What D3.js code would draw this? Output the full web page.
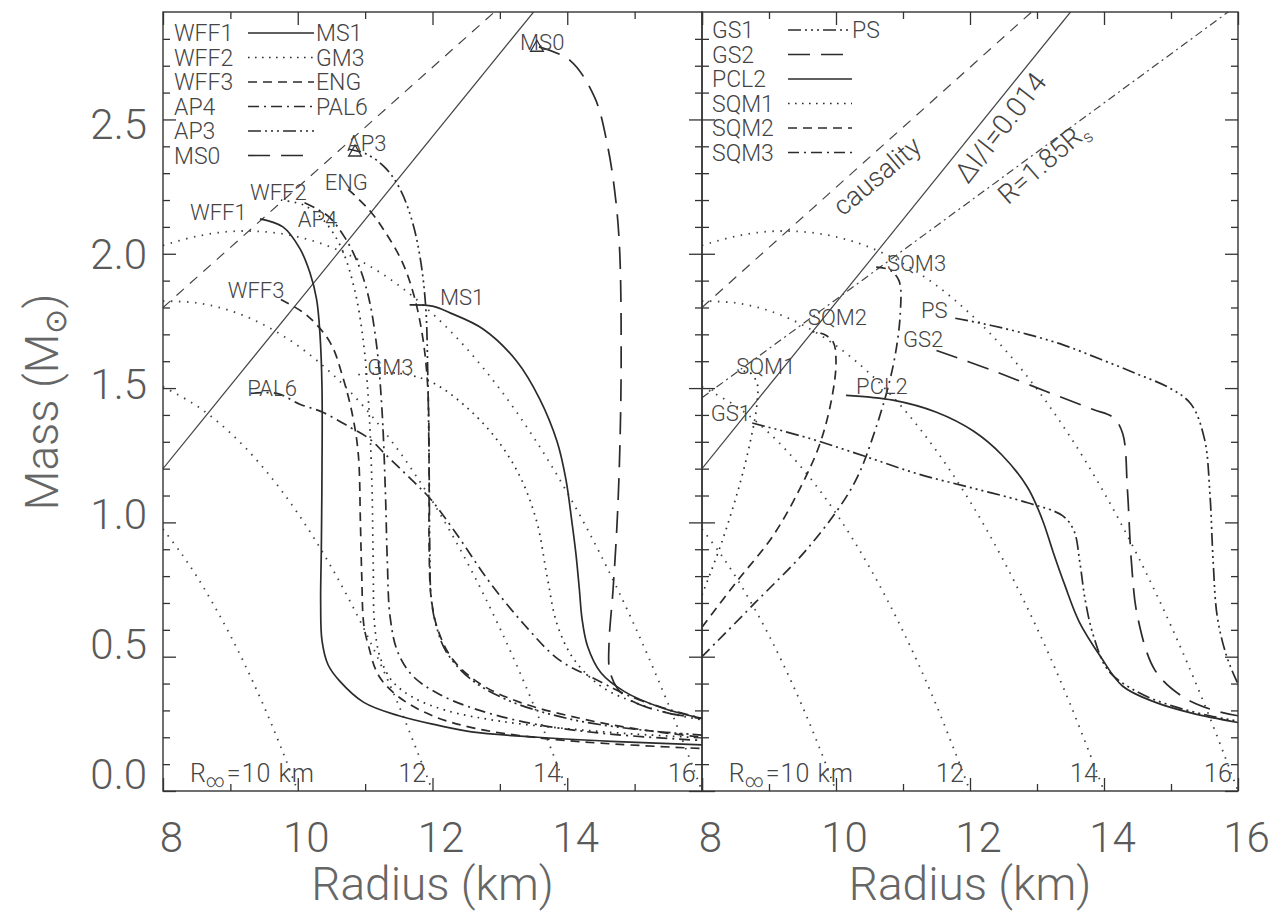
<!DOCTYPE html>
<html><head><meta charset="utf-8">
<script src="https://cdn.jsdelivr.net/npm/d3@7"></script>
<style>body{margin:0;background:#fff}</style>
</head><body>
<svg id="c" width="1277" height="919"></svg>
<script>
// ---------- tick values ----------
const xMajor = [8, 10, 12, 14, 16];
const xMinor = [9, 11, 13, 15];
const yMajor = [0, 0.5, 1, 1.5, 2, 2.5];
const yMinor = [0.1,0.2,0.3,0.4,0.6,0.7,0.8,0.9,1.1,1.2,1.3,1.4,1.6,1.7,1.8,1.9,2.1,2.2,2.3,2.4,2.6,2.7,2.8];

// ---------- left panel series (Radius km, Mass Msun) ----------
const WFF1 = [[9.44,2.13],[9.78,2.10],[10.03,2.02],[10.18,1.93],[10.28,1.83],[10.33,1.70],[10.36,1.50],[10.36,1.20],[10.35,0.90],[10.34,0.70],[10.36,0.56],[10.45,0.47],[10.62,0.41],[10.98,0.33],[11.5,0.28],[12.07,0.245],[12.58,0.22],[13.56,0.20],[14.65,0.185],[16,0.172]];
const WFF2 = [[9.75,2.20],[10.1,2.18],[10.4,2.12],[10.65,2.02],[10.85,1.86],[10.98,1.66],[11.05,1.45],[11.1,1.15],[11.12,0.85],[11.14,0.62],[11.22,0.50],[11.4,0.41],[11.7,0.35],[12.2,0.30],[13.0,0.26],[14.0,0.232],[15.0,0.212],[16,0.198]];
const WFF3 = [[9.75,1.83],[10.14,1.77],[10.48,1.67],[10.67,1.54],[10.82,1.39],[10.9,1.25],[10.93,1.00],[10.95,0.80],[10.98,0.62],[11.05,0.54],[11.2,0.43],[11.5,0.35],[12.0,0.28],[12.6,0.235],[13.5,0.20],[14.5,0.178],[16,0.158]];
const AP4  = [[10.1,2.19],[10.45,2.14],[10.7,2.06],[10.9,1.96],[11.05,1.84],[11.17,1.66],[11.25,1.42],[11.3,1.12],[11.33,0.85],[11.37,0.65],[11.48,0.52],[11.7,0.43],[12.1,0.36],[12.7,0.30],[13.5,0.25],[14.5,0.215],[16,0.188]];
const ENG  = [[10.75,2.24],[11.07,2.16],[11.3,2.08],[11.55,1.97],[11.73,1.84],[11.86,1.68],[11.93,1.50],[11.95,1.20],[11.95,0.90],[11.98,0.72],[12.08,0.60],[12.3,0.49],[12.7,0.40],[13.3,0.33],[14.2,0.27],[15,0.232],[16,0.2]];
const AP3  = [[10.75,2.39],[11.03,2.37],[11.3,2.32],[11.52,2.24],[11.7,2.12],[11.82,1.98],[11.9,1.80],[11.93,1.55],[11.95,1.20],[11.96,0.90],[11.98,0.72],[12.05,0.62],[12.2,0.52],[12.55,0.42],[13.1,0.34],[14.0,0.27],[15,0.23],[16,0.208]];
const MS1  = [[11.66,1.81],[12.0,1.805],[12.26,1.78],[12.75,1.72],[13.25,1.60],[13.59,1.46],[13.85,1.30],[13.98,1.16],[14.07,1.00],[14.13,0.88],[14.18,0.75],[14.22,0.64],[14.3,0.54],[14.5,0.44],[14.85,0.37],[15.4,0.31],[16,0.27]];
const GM3  = [[10.9,1.55],[11.5,1.555],[12.0,1.52],[12.5,1.43],[12.95,1.31],[13.3,1.17],[13.55,1.00],[13.7,0.80],[13.85,0.62],[14.1,0.49],[14.5,0.39],[15.0,0.33],[15.5,0.29],[16,0.265]];
const PAL6 = [[9.3,1.48],[9.69,1.48],[10.03,1.44],[10.37,1.41],[10.77,1.355],[11.07,1.31],[11.29,1.256],[11.7,1.156],[11.96,1.09],[12.32,0.97],[12.84,0.78],[13.36,0.62],[13.87,0.49],[14.39,0.42],[14.9,0.356],[15.42,0.31],[16,0.27]];
const MS0  = [[13.58,2.77],[14.04,2.72],[14.41,2.58],[14.6,2.40],[14.72,2.20],[14.78,2.00],[14.8,1.60],[14.78,1.27],[14.74,1.00],[14.68,0.75],[14.62,0.55],[14.63,0.45],[14.75,0.38],[15.0,0.33],[15.5,0.29],[16,0.27]];

// ---------- right panel series ----------
const GS1  = [[8.75,1.37],[9.6,1.313],[10.42,1.247],[11.23,1.18],[12.05,1.127],[12.86,1.073],[13.38,1.025],[13.55,0.97],[13.64,0.85],[13.72,0.71],[13.84,0.58],[14.06,0.45],[14.49,0.37],[15.04,0.315],[15.58,0.28],[16,0.26]];
const PS   = [[11.78,1.76],[12.32,1.733],[12.86,1.70],[13.4,1.66],[13.95,1.607],[14.49,1.553],[14.98,1.50],[15.3,1.44],[15.5,1.31],[15.58,1.11],[15.63,0.85],[15.69,0.65],[15.82,0.51],[15.96,0.42],[16,0.40]];
const GS2  = [[11.5,1.64],[12.32,1.567],[13.14,1.487],[13.84,1.42],[14.14,1.39],[14.28,1.33],[14.35,1.12],[14.41,0.85],[14.5,0.65],[14.76,0.45],[15.15,0.355],[15.58,0.305],[16,0.28]];
const PCL2 = [[10.15,1.473],[10.85,1.455],[11.5,1.41],[12.05,1.34],[12.48,1.25],[12.86,1.13],[13.08,1.01],[13.24,0.89],[13.41,0.77],[13.63,0.63],[13.95,0.50],[14.28,0.39],[14.77,0.33],[15.31,0.29],[16,0.255]];
const SQM1 = [[8.0,0.73],[8.3,0.93],[8.55,1.13],[8.72,1.30],[8.82,1.44],[8.82,1.52],[8.7,1.56],[8.55,1.56]];
const SQM2 = [[8.0,0.61],[8.52,0.78],[9.06,0.95],[9.49,1.14],[9.77,1.30],[9.95,1.48],[10.0,1.60],[9.96,1.67],[9.82,1.70],[9.65,1.71]];
const SQM3 = [[8.0,0.50],[8.79,0.70],[9.6,0.91],[10.26,1.14],[10.58,1.34],[10.85,1.58],[10.96,1.78],[10.94,1.90],[10.8,1.94],[10.6,1.95]];

// ---------- reference lines ----------
const causality = [[8,1.80],[12.92,2.90]];
const deltaI    = [[8,1.20],[13.5,2.90]];
const r185Rs    = [[8,1.464],[16,2.927]];
const rinf10 = [[8,0.975],[8.25,0.892],[8.5,0.799],[8.75,0.694],[9,0.579],[9.25,0.452],[9.5,0.314],[9.75,0.163],[10,0]];
const rinf12 = [[8,1.505],[8.5,1.434],[9,1.333],[9.5,1.200],[10,1.034],[10.5,0.833],[11,0.595],[11.5,0.318],[12,0]];
const rinf14 = [[8,1.824],[8.5,1.817],[9,1.788],[9.5,1.735],[10,1.658],[10.5,1.555],[11,1.425],[11.5,1.266],[12,1.078],[12.5,0.858],[13,0.606],[13.5,0.321],[14,0]];
const rinf16 = [[8,2.031],[8.5,2.065],[9,2.083],[9.5,2.082],[10,2.063],[10.5,2.024],[11,1.964],[11.5,1.882],[12,1.777],[12.5,1.649],[13,1.496],[13.5,1.317],[14,1.111],[14.5,0.877],[15,0.615],[15.5,0.323],[16,0]];
const rinfValues = [12, 14, 16];

// ---------- annotation anchors (data units) ----------
const leftNames  = ["WFF1","WFF2","ENG","AP4","AP3","WFF3","MS1","GM3","PAL6","MS0"];
const leftAt     = [[8.40,2.126],[9.29,2.20],[10.40,2.236],[10.0,2.10],[10.73,2.383],[8.96,1.835],[12.11,1.81],[11.03,1.549],[9.25,1.47],[13.3,2.76]];
const rightNames = ["SQM3","SQM2","SQM1","GS1","PCL2","PS","GS2"];
const rightAt    = [[10.76,1.936],[9.58,1.735],[8.51,1.552],[8.13,1.378],[10.30,1.478],[11.27,1.761],[11.0,1.653]];
const maxMarks   = [[10.85,2.385],[13.55,2.775]];

// legend rows: [left name, right name, style]
const leftLegend  = [["WFF1","MS1","solid"],["WFF2","GM3","dotted"],["WFF3","ENG","dashed"],["AP4","PAL6","dashdot"],["AP3","","dash3dot"],["MS0","","longdash"]];
const rightLegend = [["GS1","PS","dash3dot"],["GS2","","longdash"],["PCL2","","solid"],["SQM1","","dotted"],["SQM2","","dashed"],["SQM3","","dashdot"]];

// ---------- styles ----------
const dash = {solid:null, dotted:"1.6,5.4", dashed:"9,6", longdash:"22,11", dashdot:"11,5,2,5", dash3dot:"13,4,2,4,2,4,2,4"};
const INK = "#2b2b2b", TXT = "#5a5a5a";
const FONT = "Roboto, 'Open Sans', 'DejaVu Sans', sans-serif";

const svg = d3.select("#c");
svg.append("rect").attr("width",1277).attr("height",919).attr("fill","#fff");

const y = d3.scaleLinear().domain([0,2.9]).range([791,12]);
const xL = d3.scaleLinear().domain([8,16]).range([163,702]);
const xR = d3.scaleLinear().domain([8,16]).range([702,1238]);

const leftSeries = [
  {d:WFF1,s:"solid"},{d:WFF2,s:"dotted"},{d:WFF3,s:"dashed"},{d:AP4,s:"dashdot"},{d:AP3,s:"dash3dot"},{d:MS0,s:"longdash"},
  {d:MS1,s:"solid"},{d:GM3,s:"dotted"},{d:ENG,s:"dashed"},{d:PAL6,s:"dashdot"}];
const rightSeries = [
  {d:GS1,s:"dash3dot"},{d:PS,s:"dash3dot"},{d:GS2,s:"longdash"},{d:PCL2,s:"solid"},{d:SQM1,s:"dotted"},{d:SQM2,s:"dashed"},{d:SQM3,s:"dashdot"}];

function panel(id, x, series, refs, names, at, isRight) {
  const [x0,x1] = x.range();
  svg.append("clipPath").attr("id",id).append("rect")
    .attr("x",x0).attr("y",y(2.9)).attr("width",x1-x0).attr("height",y(0)-y(2.9));
  const g = svg.append("g").attr("clip-path",`url(#${id})`);
  const line = d3.line().x(d=>x(d[0])).y(d=>y(d[1])).curve(d3.curveCatmullRom.alpha(0.5));
  const lin = d3.line().x(d=>x(d[0])).y(d=>y(d[1]));
  [rinf10,rinf12,rinf14,rinf16].forEach(r=>{
    g.append("path").attr("d",line(r)).attr("fill","none").attr("stroke","#444")
      .attr("stroke-width",1.8).attr("stroke-dasharray","1.5,6.5");
  });
  refs.forEach(r=>{
    g.append("path").attr("d",lin(r.d)).attr("fill","none").attr("stroke","#444")
      .attr("stroke-width",1.2).attr("stroke-dasharray",r.s);
  });
  series.forEach(s=>{
    g.append("path").attr("d",line(s.d)).attr("fill","none").attr("stroke",INK)
      .attr("stroke-width",1.7).attr("stroke-dasharray",dash[s.s]);
  });
  svg.append("rect").attr("x",x0).attr("y",y(2.9)).attr("width",x1-x0).attr("height",y(0)-y(2.9))
    .attr("fill","none").attr("stroke","#333").attr("stroke-width",1.4);
  const tick = sel => sel.call(a=>a.select(".domain").remove())
     .call(a=>a.selectAll("line").attr("stroke","#333").attr("stroke-width",1.3));
  svg.append("g").attr("transform",`translate(0,${y(0)})`)
    .call(d3.axisBottom(x).tickValues(xMajor).tickSize(-13).tickSizeOuter(0).tickPadding(31)
      .tickFormat(d=> (!isRight && d===16) ? "" : d3.format("d")(d)))
    .call(tick)
    .call(a=>a.selectAll("text").attr("dx",8).attr("fill",TXT).attr("font-family",FONT)
      .attr("font-weight",300).attr("font-size",42));
  svg.append("g").attr("transform",`translate(0,${y(0)})`)
    .call(d3.axisBottom(x).tickValues(xMinor).tickSize(-7).tickSizeOuter(0).tickFormat("")).call(tick);
  svg.append("g").attr("transform",`translate(0,${y(2.9)})`)
    .call(d3.axisTop(x).tickValues(xMajor).tickSize(-13).tickSizeOuter(0).tickFormat("")).call(tick);
  svg.append("g").attr("transform",`translate(0,${y(2.9)})`)
    .call(d3.axisTop(x).tickValues(xMinor).tickSize(-7).tickSizeOuter(0).tickFormat("")).call(tick);
  svg.append("g").attr("transform",`translate(${x1},0)`)
    .call(d3.axisRight(y).tickValues(yMajor).tickSize(-13).tickSizeOuter(0).tickFormat("")).call(tick);
  svg.append("g").attr("transform",`translate(${x1},0)`)
    .call(d3.axisRight(y).tickValues(yMinor).tickSize(-7).tickSizeOuter(0).tickFormat("")).call(tick);
  svg.append("g").attr("transform",`translate(${x0},0)`)
    .call(d3.axisLeft(y).tickValues(yMinor).tickSize(-7).tickSizeOuter(0).tickFormat("")).call(tick);
  svg.append("g").attr("transform",`translate(${x0},0)`)
    .call(d3.axisLeft(y).tickValues(yMajor).tickSize(-13).tickSizeOuter(0).tickPadding(16)
      .tickFormat(isRight ? ()=>"" : d3.format(".1f")))
    .call(tick)
    .call(a=>a.selectAll("text").attr("fill",TXT).attr("font-family",FONT)
      .attr("font-weight",300).attr("font-size",42)
      .attr("transform",d=>`translate(0,${-16 + d*8.8})`));
  names.forEach((n,i)=>{
    svg.append("text").attr("x",x(at[i][0])).attr("y",y(at[i][1])).text(n)
      .attr("font-family",FONT).attr("font-weight",300).attr("font-size",22).attr("fill","#444");
  });
  const t = svg.append("text").attr("x",x(8.40)).attr("y",y(0.034))
    .attr("font-family",FONT).attr("font-weight",300).attr("font-size",25).attr("fill","#444");
  t.append("tspan").text("R");
  t.append("tspan").text("\u221E").attr("font-size",18).attr("dy",5);
  t.append("tspan").text("=10 km").attr("dy",-5).attr("dx",2).attr("letter-spacing",1);
  rinfValues.forEach(v=>{
    svg.append("text").attr("x",x(v-0.3)).attr("y",y(0.034)).attr("text-anchor","middle").text(v)
      .attr("font-family",FONT).attr("font-weight",300).attr("font-size",25).attr("fill","#444");
  });
  svg.append("text").attr("x",(x0+x1)/2).attr("y",900).attr("text-anchor","middle")
    .text("Radius (km)").attr("font-family",FONT).attr("font-weight",300)
    .attr("font-size",46).attr("fill","#666");
  return g;
}

panel("clipL", xL, leftSeries,
  [{d:causality,s:"10,8"},{d:deltaI,s:null}], leftNames, leftAt, false);
panel("clipR", xR, rightSeries,
  [{d:causality,s:"10,8"},{d:deltaI,s:null},{d:r185Rs,s:"8,4,2,4"}], rightNames, rightAt, true);

svg.selectAll(".tri").data(maxMarks).join("path")
  .attr("transform",d=>`translate(${xL(d[0])},${y(d[1])+2})`)
  .attr("d",d3.symbol(d3.symbolTriangle,70)).attr("fill","none").attr("stroke","#333").attr("stroke-width",1.3);

function rot(txt, R, M, ang, size, sub) {
  const t = svg.append("text").attr("transform",`translate(${xR(R)},${y(M)}) rotate(${ang})`)
    .attr("text-anchor","middle").attr("dy","0.35em")
    .attr("font-family",FONT).attr("font-weight",300).attr("font-size",size).attr("fill","#444");
  t.append("tspan").text(txt);
  if (sub) t.append("tspan").text(sub).attr("font-size",17).attr("dy",6);
}
rot("causality", 10.61, 2.29, -40, 27);
rot("\u0394I/I=0.014", 12.45, 2.47, -52, 28);
rot("R=1.85R", 13.09, 2.34, -41, 27, "s");

function legend(rows, xName, xL0, xL1, xRight, y0) {
  rows.forEach((r,i)=>{
    const yy = y0 + i*24.5;
    svg.append("text").attr("x",xName).attr("y",yy+8).text(r[0])
      .attr("font-family",FONT).attr("font-weight",300).attr("font-size",23).attr("fill","#444");
    svg.append("line").attr("x1",xL0).attr("x2",xL1).attr("y1",yy).attr("y2",yy)
      .attr("stroke",INK).attr("stroke-width",1.6).attr("stroke-dasharray",dash[r[2]]);
    if (r[1]) svg.append("text").attr("x",xRight).attr("y",yy+8).text(r[1])
      .attr("font-family",FONT).attr("font-weight",300).attr("font-size",23).attr("fill","#444");
  });
}
legend(leftLegend, 174, 248, 314, 316, 33);
legend(rightLegend, 712, 788, 852, 852, 30);

const mt = svg.append("text").attr("transform","translate(58,402) rotate(-90)").attr("text-anchor","middle")
  .attr("font-family",FONT).attr("font-weight",300).attr("font-size",46).attr("fill","#666");
mt.append("tspan").text("Mass (M");
mt.append("tspan").text("\u2299").attr("font-size",30).attr("dy",8).attr("font-family","'DejaVu Sans'");
mt.append("tspan").text(")").attr("dy",-8);
</script>
</body></html>
